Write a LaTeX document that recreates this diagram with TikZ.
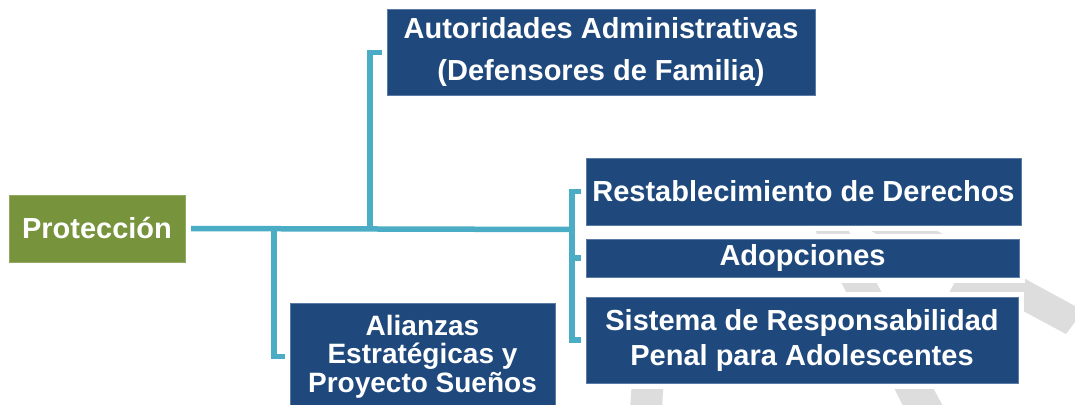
\documentclass[tikz,border=0pt]{standalone}
\usepackage{fontspec}
\setmainfont{Liberation Sans}
\usetikzlibrary{backgrounds}
\definecolor{boxblue}{HTML}{1F497D}
\definecolor{boxedge}{HTML}{5A7BA6}
\definecolor{protgreen}{HTML}{77933C}
\definecolor{linkteal}{HTML}{4BACC6}
\definecolor{markgray}{HTML}{DDDDDD}
\begin{document}
\begin{tikzpicture}[x=1pt,y=-1pt,font=\bfseries]
	\tikzstyle{every node}=[rectangle,text=white,align=center,inner sep=0pt,font=\bfseries\fontsize{29}{35}\selectfont,preaction={draw=white,line width=11pt}]
	\tikzstyle{PR} =[fill=protgreen,draw=protgreen!80!white,line width=1pt] % PR = root box
	\tikzstyle{BX} =[fill=boxblue,draw=boxedge,line width=1pt]  % BX = blue branch box
	\tikzstyle{LK} =[draw=linkteal,line width=5.5pt]  % LK = link line
	\useasboundingbox (0,0) rectangle (1075,404);
	\clip (0,0) rectangle (1075,404);
	% boxes
	\node(prot)[PR,minimum width=176pt,minimum height=67pt] at (97,228.5) {Protección};
	\node(auto)[BX,minimum width=428pt,minimum height=85pt] at (601,52.5) {Autoridades Administrativas\\[7pt](Defensores de Familia)};
	\node(rest)[BX,minimum width=435pt,minimum height=67pt] at (803.5,191.5) {Restablecimiento de Derechos};
	\node(adop)[BX,minimum width=433pt,minimum height=38pt] at (802.5,258) {Adopciones};
	\node(sist)[BX,minimum width=432pt,minimum height=86pt] at (802,340) {Sistema de Responsabilidad\\Penal para Adolescentes};
	\node(alia)[BX,minimum width=265pt,minimum height=107pt,font=\bfseries\fontsize{28}{28.5}\selectfont] at (422.5,356.5) {Alianzas\\Estratégicas y\\Proyecto Sueños};
	\coordinate (jB) at (274,229.5);
	\coordinate (jA) at (370,229.5);
	\coordinate (jR) at (572,229.5);
	\begin{scope}[on background layer]
		% faint mark behind the boxes
		\fill[markgray] (800,200) -- (832,200) -- (945,410) -- (905,410) -- cycle;
		\fill[markgray] (863,226) -- (928,226) -- (1075,306) -- (1075,322) -- (1066,334) -- (1025,312) -- (945,300) -- (955,282) -- cycle;
		\fill[markgray] (637,300) -- (668,300) -- (662,410) -- (630,410) -- cycle;
		% links
		\draw[LK] (prot.east) -- (jR);
		\draw[LK] (jA) |- (auto.west);
		\draw[LK] (jB) |- (alia.west);
		\draw[LK] (rest.west) -| (jR) |- (sist.west);
		\draw[LK] (adop.west) -- (jR |- adop.west);
	\end{scope}
\end{tikzpicture}
\end{document}
